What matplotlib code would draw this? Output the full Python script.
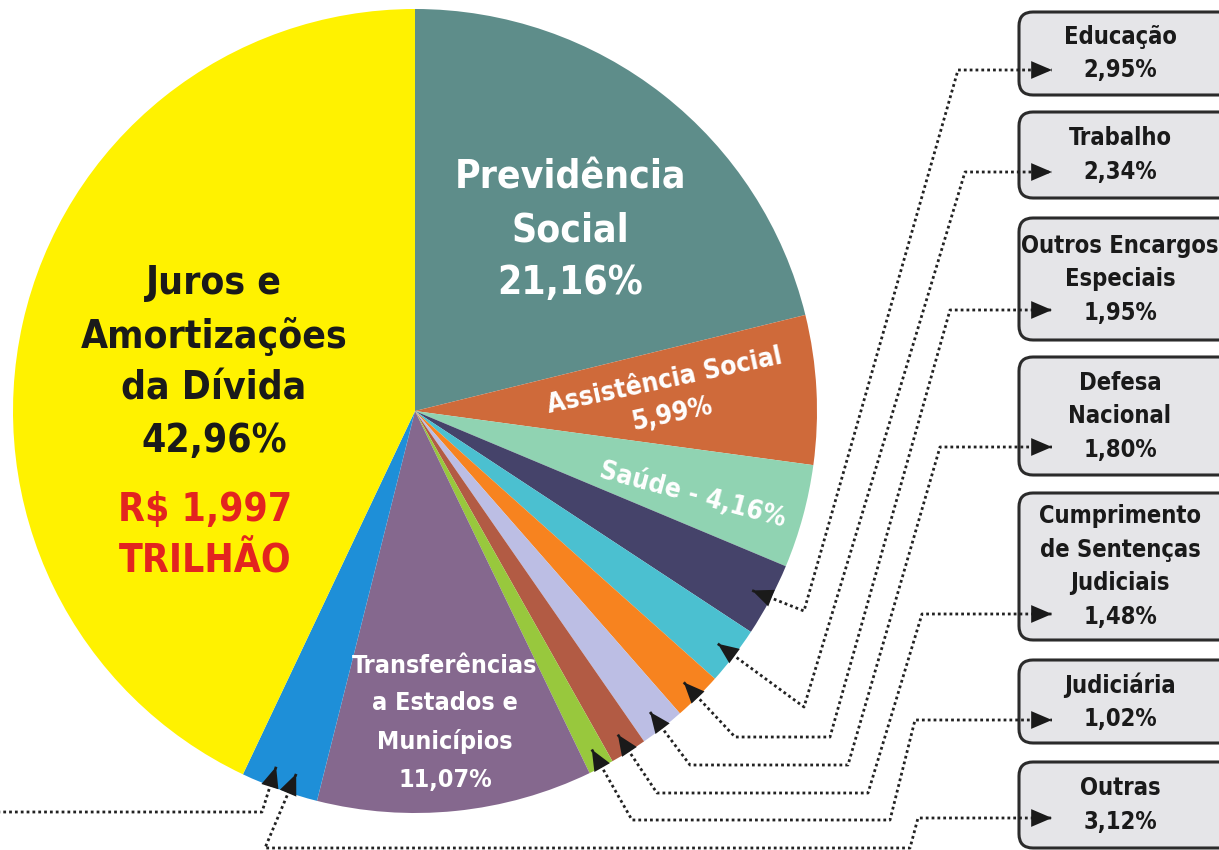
import matplotlib
matplotlib.use("Agg")
import matplotlib.pyplot as plt
import numpy as np
from matplotlib import font_manager as fm
from matplotlib.patches import FancyBboxPatch

# narrow bold face, as close to the newspaper's condensed font as we can get
_fonts = {(f.name, f.stretch) for f in fm.fontManager.ttflist}
if any(n == 'Liberation Sans Narrow' for n, s in _fonts):
    FAM, STRETCH = 'Liberation Sans Narrow', 'normal'
elif ('DejaVu Sans', 'condensed') in _fonts:
    FAM, STRETCH = 'DejaVu Sans', 'condensed'
else:
    FAM, STRETCH = 'Roboto', 'normal'
plt.rcParams['font.family'] = [FAM, 'DejaVu Sans']

# slices, clockwise from 12 o'clock
categories = ["Previdência Social", "Assistência Social", "Saúde", "Educação", "Trabalho",
              "Outros Encargos Especiais", "Defesa Nacional",
              "Cumprimento de Sentenças Judiciais", "Judiciária",
              "Transferências a Estados e Municípios", "Outras",
              "Juros e Amortizações da Dívida"]
shares = [21.16, 5.99, 4.16, 2.95, 2.34, 1.95, 1.80, 1.48, 1.02, 11.07, 3.12, 42.96]
colors = ["#5e8d8a", "#cf6a3a", "#90d3b2", "#45436a", "#4bc0d0", "#f7831f",
          "#bcbee4", "#b25b44", "#98c83d", "#85688e", "#1e8fd8", "#fff200"]

# call-out boxes on the right (slice index, title)
box_slices = [3, 4, 5, 6, 7, 8, 10]
box_titles = ["Educação", "Trabalho", "Outros Encargos\nEspeciais", "Defesa\nNacional",
              "Cumprimento\nde Sentenças\nJudiciais", "Judiciária", "Outras"]


def fmt(v):
    return f"{v:.2f}%".replace(".", ",")


W, H = 1219, 850


def px(x, y):
    # image pixel coords -> data coords
    return x, H - y


fig = plt.figure(figsize=(W / 100, H / 100), dpi=100)
ax = fig.add_axes([0, 0, 1, 1])

cx, cy = px(415, 411)
R = 402
wedges, _ = ax.pie(shares, colors=colors, startangle=90, counterclock=False,
                   center=(cx, cy), radius=R, frame=True,
                   wedgeprops=dict(linewidth=0))
ax.set_xlim(0, W)
ax.set_ylim(0, H)
ax.set_aspect('equal')
ax.axis('off')


def tip_at(i, shift=0.0, rf=0.95):
    w = wedges[i]
    a = np.deg2rad((w.theta1 + w.theta2) / 2 + shift)
    return cx + rf * R * np.cos(a), cy + rf * R * np.sin(a)


# texts inside the pie
bold = dict(fontweight='bold', fontstretch=STRETCH, ha='center', va='center')
ax.text(*px(214, 362), "Juros e\nAmortizações\nda Dívida\n" + fmt(shares[11]),
        fontsize=28, color='#1a1a1a', linespacing=1.48, **bold)
ax.text(*px(205, 536), "R$ 1,997\nTRILHÃO", fontsize=28, color='#e3241f',
        linespacing=1.45, **bold)
ax.text(*px(570, 230), "Previdência\nSocial\n" + fmt(shares[0]),
        fontsize=28, color='white', linespacing=1.5, **bold)
ax.text(*px(668, 398), "Assistência Social\n" + fmt(shares[1]),
        fontsize=19, color='white', rotation=12, linespacing=1.45, **bold)
ax.text(*px(692, 495), "Saúde - " + fmt(shares[2]),
        fontsize=19, color='white', rotation=-15, **bold)
ax.text(*px(445, 723), "Transferências\na Estados e\nMunicípios\n" + fmt(shares[9]),
        fontsize=18, color='white', linespacing=1.7, **bold)

# boxes: (top, bottom) in image pixels
box_spans = [(12, 95), (112, 198), (218, 340), (357, 475), (493, 640), (660, 743), (762, 848)]
for (top, bot), title, i in zip(box_spans, box_titles, box_slices):
    x0, y0 = px(1019, bot)
    ax.add_patch(FancyBboxPatch((x0, y0), 215, bot - top,
                                boxstyle='round,pad=0,rounding_size=14',
                                fc='#e5e5e8', ec='#2b2b2b', lw=2.2, zorder=3))
    ax.text(*px(1120, (top + bot) / 2), title + "\n" + fmt(shares[i]),
            fontsize=17, color='#1a1a1a', linespacing=1.5, zorder=4, **bold)

# dotted leader routes (image pixels), from the slice towards the box
routes = {
    3: [(804, 611), (958, 70), (1052, 70)],
    4: [(804, 707), (965, 172), (1052, 172)],
    5: [(735, 737), (830, 737), (950, 310), (1052, 310)],
    6: [(690, 765), (848, 765), (940, 447), (1052, 447)],
    7: [(657, 793), (868, 793), (922, 614), (1052, 614)],
    8: [(632, 820), (890, 820), (915, 720), (1052, 720)],
    10: [(265, 848), (910, 848), (918, 818), (1052, 818)],
}
line_kw = dict(color='#222222', lw=2, linestyle=(0, (1, 1.1)), zorder=5)
head_kw = dict(arrowstyle='-|>,head_length=0.75,head_width=0.32', color='#1a1a1a',
               lw=0, shrinkA=0, shrinkB=0, mutation_scale=20)


def leader(tip, pts):
    pts = [px(*p) for p in pts]
    xs = [tip[0]] + [p[0] for p in pts]
    ys = [tip[1]] + [p[1] for p in pts]
    ax.plot(xs, ys, **line_kw)
    ax.annotate('', xy=tip, xytext=pts[0], arrowprops=head_kw, zorder=6)
    ax.annotate('', xy=pts[-1], xytext=pts[-2], arrowprops=head_kw, zorder=6)


for i, pts in routes.items():
    shift = 1.6 if i == 10 else 0.0
    leader(tip_at(i, shift), pts)

# second leader on the blue slice, running off the left edge
t = tip_at(10, -1.6)
lp = [px(262, 812), px(0, 812)]
ax.plot([t[0], lp[0][0], lp[1][0]], [t[1], lp[0][1], lp[1][1]], **line_kw)
ax.annotate('', xy=t, xytext=lp[0], arrowprops=head_kw, zorder=6)

fig.savefig("out.png", dpi=100, facecolor='white')
